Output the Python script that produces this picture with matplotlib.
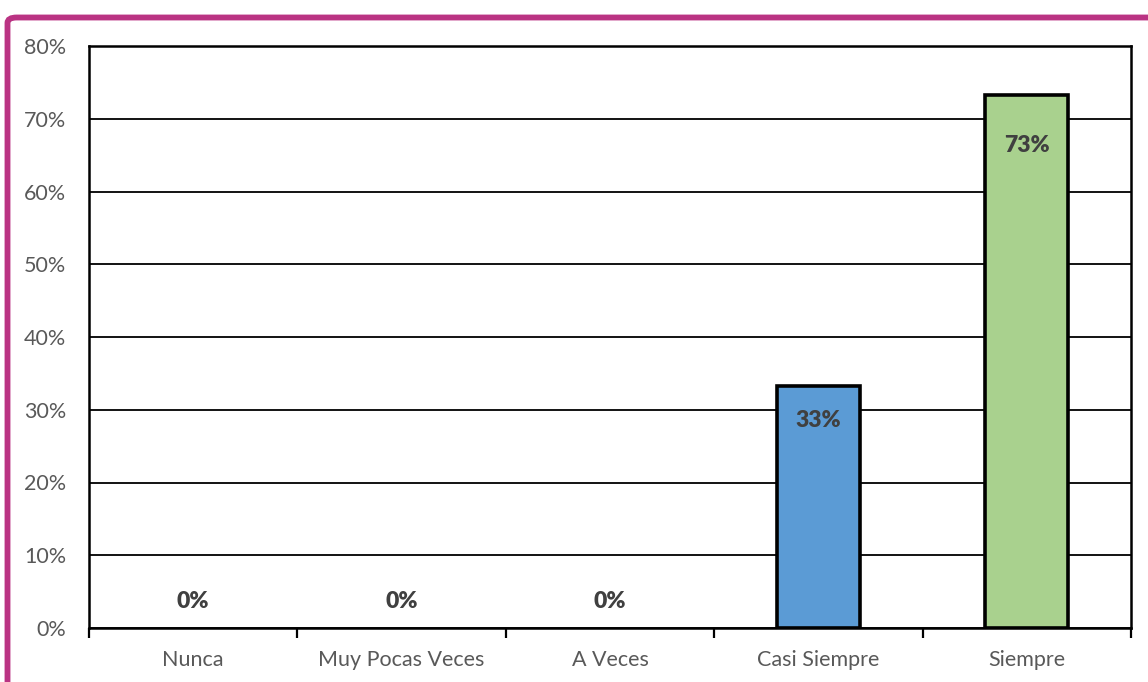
import matplotlib.pyplot as plt
from matplotlib.patches import FancyBboxPatch
from matplotlib.ticker import FuncFormatter

plt.rcParams['font.family'] = ['Lato', 'DejaVu Sans']

# datos
categorias = ['Nunca', 'Muy Pocas Veces', 'A Veces', 'Casi Siempre', 'Siempre']
porcentajes = [0.0, 0.0, 0.0, 33.33, 73.33]
etiquetas = ['0%', '0%', '0%', '33%', '73%']
colores = ['#5B9BD5', '#5B9BD5', '#5B9BD5', '#5B9BD5', '#A9D18E']

W, H = 1148, 682
fig = plt.figure(figsize=(W / 100, H / 100), dpi=100)

# marco magenta
marco = FancyBboxPatch((7.5 / W, -0.2), 1.2, 1.2 - 17.5 / H,
                       boxstyle='round,pad=0,rounding_size=0.008',
                       transform=fig.transFigure, fill=False,
                       edgecolor='#BA3383', linewidth=4.2, zorder=0)
fig.patches.append(marco)

ax = fig.add_axes([89 / W, 1 - 628 / H, (1131 - 89) / W, (628 - 46) / H])

x = range(len(categorias))
bordes = [2.6 if v > 0 else 0 for v in porcentajes]
ax.bar(x, porcentajes, width=0.40, color=colores, edgecolor='black',
       linewidth=bordes, zorder=3)

# etiquetas de datos
desplaz = [27, 27, 27, -35, -51]
for i, (v, t) in enumerate(zip(porcentajes, etiquetas)):
    ax.annotate(t, (i, v), xytext=(0, desplaz[i]), textcoords='offset pixels',
                ha='center', va='center', fontsize=16.5, fontweight='heavy',
                color='#404040', zorder=4)

ax.set_xlim(-0.5, len(categorias) - 0.5)
ax.set_ylim(0, 80)
ax.set_yticks(range(0, 81, 10))
ax.yaxis.set_major_formatter(FuncFormatter(lambda v, p: f'{v:.0f}%'))
ax.grid(axis='y', color='black', linewidth=1.3, zorder=0)
ax.set_axisbelow(True)

ax.set_xticks(list(x))
ax.set_xticklabels(categorias)
ax.set_xticks([i - 0.5 for i in range(len(categorias) + 1)], minor=True)
ax.tick_params(axis='x', which='major', length=0, pad=15.5, labelsize=15.5,
               labelcolor='#595959')
ax.tick_params(axis='x', which='minor', length=7, width=1.6, color='black',
               direction='out')
ax.tick_params(axis='y', length=0, pad=16.5, labelsize=15.5, labelcolor='#595959')

for s in ax.spines.values():
    s.set_color('black')
    s.set_linewidth(1.8)

fig.savefig('out.png', dpi=100)
